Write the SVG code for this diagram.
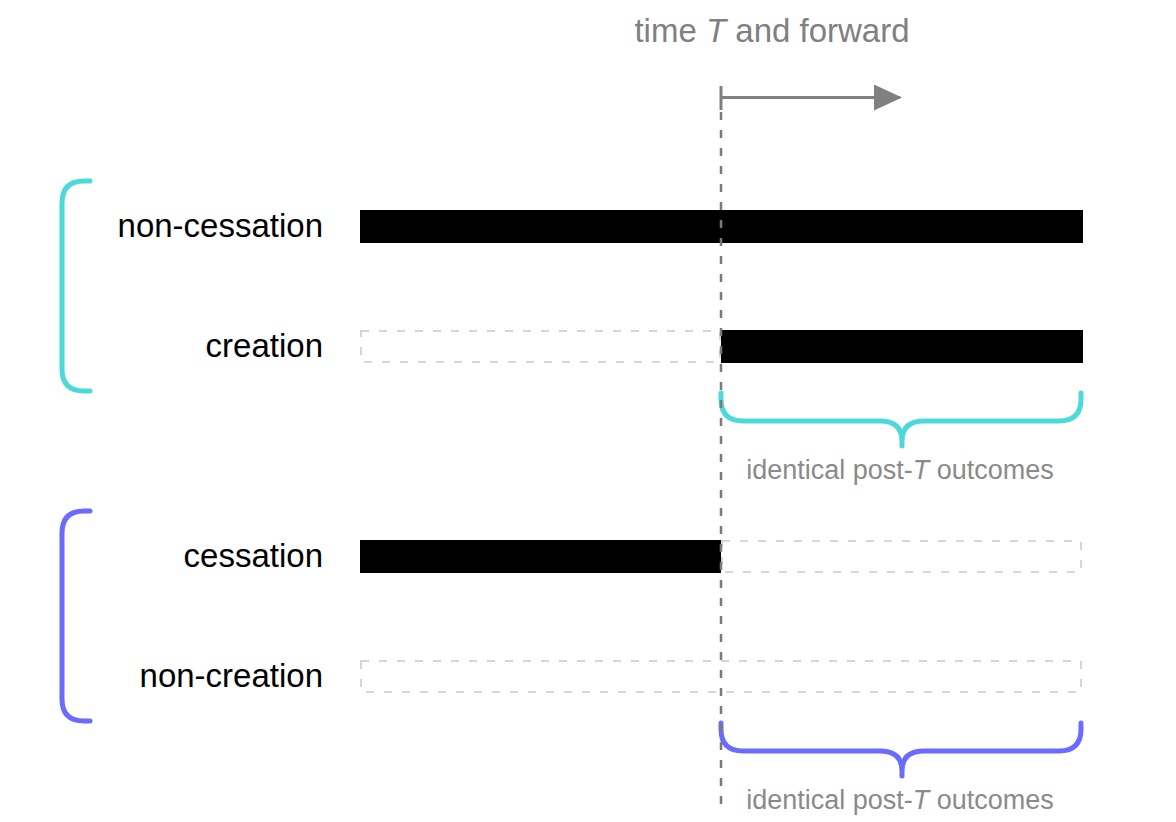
<svg xmlns="http://www.w3.org/2000/svg" width="1176" height="822" viewBox="0 0 1176 822">
<style>
.lbl{font-family:"Liberation Sans",Arial,sans-serif;font-size:33px;fill:#000}
.title{font-family:"Liberation Sans",Arial,sans-serif;font-size:33px;fill:#808080}
.note{font-family:"Liberation Sans",Arial,sans-serif;font-size:27px;fill:#8a8a8a}
.it{font-style:italic}
.bar{fill:#000}
.ghost{fill:none;stroke:#d6d6d6;stroke-width:2;stroke-dasharray:8 10}
.cyan{fill:none;stroke:#4dd9d9;stroke-width:5;stroke-linecap:round;stroke-linejoin:round}
.purple{fill:none;stroke:#6b6bff;stroke-width:5;stroke-linecap:round;stroke-linejoin:round}
</style>
<defs>
<marker id="ah" viewBox="0 0 28 26" refX="26" refY="13" markerWidth="28" markerHeight="26" markerUnits="userSpaceOnUse" orient="auto">
<path d="M0,0 L28,13 L0,26 z" fill="#808080"/>
</marker>
</defs>
<rect width="1176" height="822" fill="#fff"/>

<g id="title">
<text class="title" x="772" y="42" text-anchor="middle">time <tspan class="it">T</tspan> and forward</text>
</g>

<g id="row-non-cessation">
<text class="lbl" x="323" y="237" text-anchor="end">non-cessation</text>
<rect class="bar" x="360" y="210" width="723" height="33"/>
</g>
<g id="row-creation">
<text class="lbl" x="323" y="357" text-anchor="end">creation</text>
<rect class="ghost" x="361" y="331" width="359" height="31"/>
<rect class="bar" x="721" y="330" width="362" height="33"/>
</g>
<g id="row-cessation">
<text class="lbl" x="323" y="567" text-anchor="end">cessation</text>
<rect class="bar" x="360" y="540" width="361" height="33"/>
<rect class="ghost" x="722" y="541" width="359" height="31"/>
</g>
<g id="row-non-creation">
<text class="lbl" x="323" y="687" text-anchor="end">non-creation</text>
<rect class="ghost" x="361" y="661" width="720" height="31"/>
</g>

<g id="bracket-cyan">
<path class="cyan" d="M90,181 H84 Q62,181 62,203 V369 Q62,391 84,391 H90" stroke-width="6"/>
</g>
<g id="bracket-purple">
<path class="purple" d="M90,511 H84 Q62,511 62,533 V699 Q62,721 84,721 H90" stroke-width="6"/>
</g>

<g id="brace-cyan">
<path class="cyan" d="M721,393 V399 Q721,421 743,421 H880 Q902,421 902,441 V446 M1081,393 V399 Q1081,421 1059,421 H924 Q902,421 902,441"/>
<text class="note" x="900" y="479" text-anchor="middle">identical post-<tspan class="it">T</tspan> outcomes</text>
</g>
<g id="brace-purple">
<path class="purple" d="M721,723 V729 Q721,751 743,751 H880 Q902,751 902,771 V776 M1081,723 V729 Q1081,751 1059,751 H924 Q902,751 902,771"/>
<text class="note" x="900" y="809" text-anchor="middle">identical post-<tspan class="it">T</tspan> outcomes</text>
</g>

<g id="connectors">
<line x1="721" y1="86" x2="721" y2="110" stroke="#808080" stroke-width="3"/>
<line x1="721" y1="112" x2="721" y2="812" stroke="#7a7a7a" stroke-width="2.5" stroke-dasharray="8 10"/>
<line x1="721" y1="97.5" x2="900" y2="97.5" stroke="#808080" stroke-width="3" marker-end="url(#ah)"/>
</g>
</svg>
